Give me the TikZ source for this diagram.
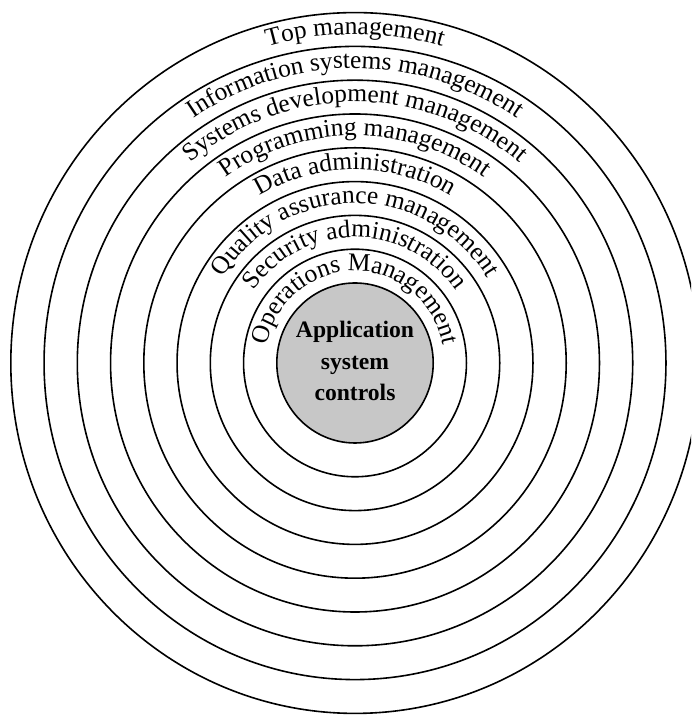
\documentclass[tikz,border=0pt]{standalone}
\usepackage{fontspec}
\setmainfont{Liberation Serif}
\usetikzlibrary{decorations.text}
\newcommand\bandfont{\fontsize{12.7}{15}\selectfont}

\begin{document}
\begin{tikzpicture}[x=0.5pt, y=0.5pt, line cap=round, line join=round,
    ring/.style={line width=0.8pt},
    core/.style={ring, fill=black!22},
    band/.style={decorate, decoration={text along path, text align=center}},
    lab/.style={font=\bfseries\fontsize{11.8}{15.7}\selectfont, align=center, inner sep=0pt}]
  \useasboundingbox (0,0) rectangle (691,715);
  \clip (0,0) rectangle (691,715);
  \coordinate (c) at (355,352);
  \foreach \k in {8,7,...,1}
    \draw[ring] (c) ellipse [x radius={78.2+33.25*\k}, y radius={80+33.8*\k}];
  \draw[core] (c) ellipse [x radius=78.2, y radius=80];
  \node[lab] (ctl) at (355,354) {Application\\system\\controls};
  \foreach \k/\txt in {1/Operations Management, 2/Security administration,
      3/Quality assurance management, 4/Data administration,
      5/Programming management, 6/Systems development management,
      7/Information systems management, 8/Top management}
    \path[band, decoration={text/.expanded={|\noexpand\bandfont|\txt}}]
      (c) ++({-89.9-33.25*(\k-1)},0)
      arc[start angle=180, end angle=0, x radius={89.9+33.25*(\k-1)}, y radius={92+33.8*(\k-1)}];
\end{tikzpicture}
\end{document}
